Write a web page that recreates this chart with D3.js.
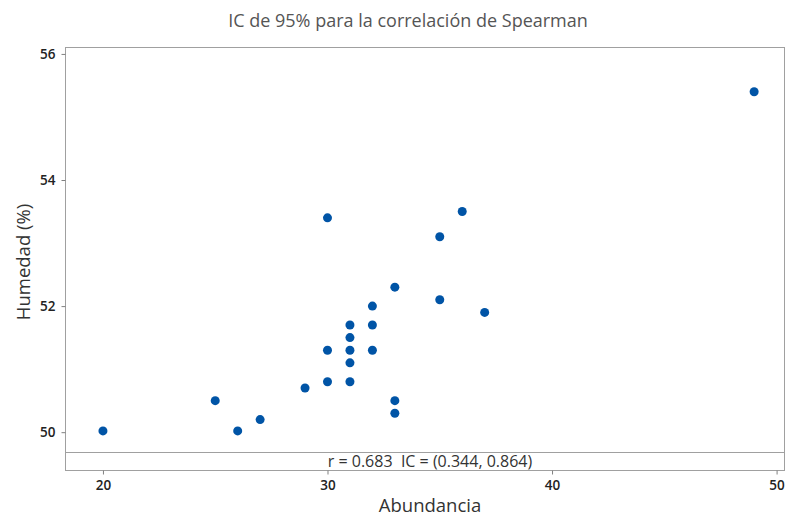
<!DOCTYPE html>
<html lang="es">
<head>
<meta charset="utf-8">
<script src="https://cdn.jsdelivr.net/npm/d3@7"></script>
<style>
  body { margin: 0; background: #fff; }
  text { font-family: "Open Sans", "Noto Sans", sans-serif; }
  .frame { fill: none; stroke: #a0a0a0; stroke-width: 1; }
  .tick line { stroke: #808080; }
  .tick text { fill: #222; font-size: 13.5px; font-weight: 600; }
</style>
</head>
<body>
<div id="chart"></div>
<script>
// datos
var abundancia = [20, 25, 26, 27, 29, 30, 30, 30, 31, 31, 31, 31, 31, 32, 32, 32, 33, 33, 33, 35, 35, 36, 37, 49];
var humedad    = [50.02, 50.5, 50.02, 50.2, 50.7, 50.8, 51.3, 53.4, 50.8, 51.1, 51.3, 51.5, 51.7, 51.3, 51.7, 52.0, 50.3, 50.5, 52.3, 52.1, 53.1, 53.5, 51.9, 55.4];
var xTicks = [20, 30, 40, 50];
var yTicks = [50, 52, 54, 56];
var titulo = "IC de 95% para la correlación de Spearman";
var nota = "r = 0.683  IC = (0.344, 0.864)";

var width = 786, height = 518;
var pLeft = 65, pRight = 784, pTop = 47, pBottom = 470;

var svg = d3.select("#chart").append("svg")
    .attr("width", width)
    .attr("height", height);

var x = d3.scaleLinear().domain([18.31, 50.33]).range([pLeft, pRight]);
var y = d3.scaleLinear().domain([49.40, 56.11]).range([pBottom, pTop]);

// marco
svg.append("rect")
    .attr("class", "frame")
    .attr("x", pLeft + 0.5).attr("y", pTop + 0.5)
    .attr("width", pRight - pLeft).attr("height", pBottom - pTop);

// linea de la nota
svg.append("line")
    .attr("x1", pLeft).attr("x2", pRight)
    .attr("y1", 452.5).attr("y2", 452.5)
    .attr("stroke", "#a0a0a0");

svg.append("text")
    .attr("x", 430)
    .attr("y", 467)
    .attr("text-anchor", "middle")
    .style("font-size", "16px")
    .style("fill", "#333")
    .style("white-space", "pre")
    .text(nota);

// ejes
var xAxis = svg.append("g")
    .attr("transform", "translate(0," + (pBottom + 0.5) + ")")
    .call(d3.axisBottom(x).tickValues(xTicks).tickFormat(d3.format("d")).tickSize(4).tickPadding(6));
xAxis.select(".domain").remove();

var yAxis = svg.append("g")
    .attr("transform", "translate(" + (pLeft + 0.5) + ",0)")
    .call(d3.axisLeft(y).tickValues(yTicks).tickFormat(d3.format("d")).tickSize(4).tickPadding(6));
yAxis.select(".domain").remove();

// puntos
svg.append("g").selectAll("circle")
    .data(abundancia)
    .enter().append("circle")
    .attr("cx", function(d) { return x(d); })
    .attr("cy", function(d, i) { return y(humedad[i]); })
    .attr("r", 4.5)
    .attr("fill", "#0054a6");

// titulos
svg.append("text")
    .attr("x", 408).attr("y", 27)
    .attr("text-anchor", "middle")
    .style("font-size", "18px")
    .style("fill", "#555")
    .text(titulo);

svg.append("text")
    .attr("x", 430).attr("y", 512)
    .attr("text-anchor", "middle")
    .style("font-size", "18.5px")
    .style("fill", "#333")
    .text("Abundancia");

svg.append("text")
    .attr("transform", "translate(30," + 262 + ") rotate(-90)")
    .attr("text-anchor", "middle")
    .style("font-size", "18.5px")
    .style("fill", "#333")
    .text("Humedad (%)");
</script>
</body>
</html>
